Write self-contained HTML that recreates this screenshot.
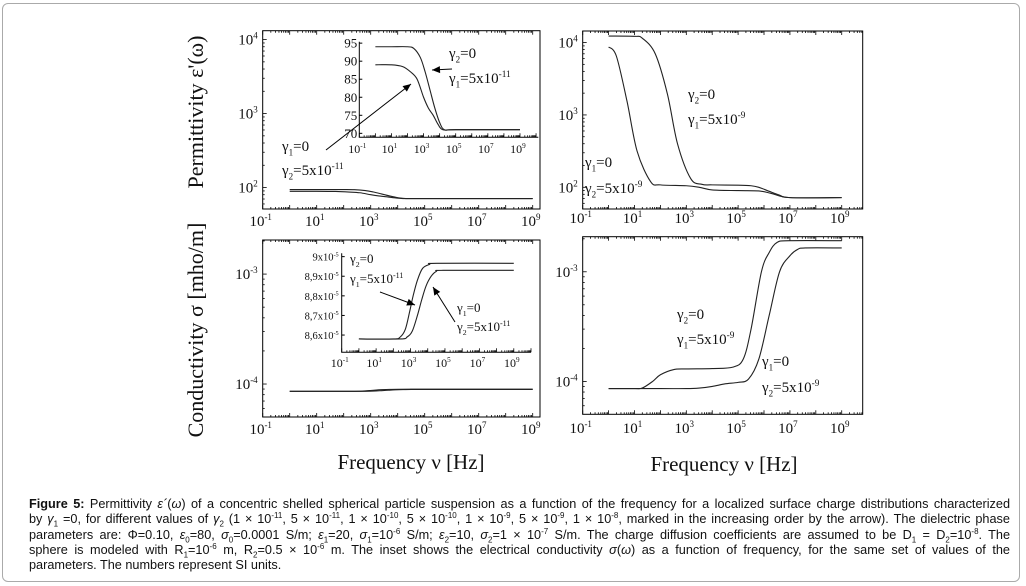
<!DOCTYPE html>
<html><head><meta charset="utf-8">
<style>
html,body{margin:0;padding:0;background:#fff;}
body{width:1026px;height:586px;position:relative;overflow:hidden;}
#frame{position:absolute;left:2px;top:3px;width:1018px;height:579px;border:1px solid #aaa;border-radius:6px;box-sizing:border-box;}
#cap{position:absolute;left:29px;top:497px;width:981px;font:12.7px/15.3px "Liberation Sans",sans-serif;color:#111;}
#cap div{text-align:justify;text-align-last:justify;white-space:nowrap;}
#cap div.last{text-align-last:left;}
#cap sub,#cap sup{font-size:8px;line-height:0;}
svg{position:absolute;left:0;top:0;}
svg text{font-family:"Liberation Serif","DejaVu Serif",serif;fill:#111;}
</style></head><body>
<div id="frame"></div>
<svg id="fig" width="1026" height="586"></svg>
<div id="cap"><div><b>Figure 5:</b> Permittivity <i>ε´</i>(<i>ω</i>) of a concentric shelled spherical particle suspension as a function of the frequency for a localized surface charge distributions characterized</div><div>by <i>γ</i><sub>1</sub> =0, for different values of <i>γ</i><sub>2</sub> (1 × 10<sup>-11</sup>, 5 × 10<sup>-11</sup>, 1 × 10<sup>-10</sup>, 5 × 10<sup>-10</sup>, 1 × 10<sup>-9</sup>, 5 × 10<sup>-9</sup>, 1 × 10<sup>-8</sup>, marked in the increasing order by the arrow). The dielectric phase</div><div>parameters are: Φ=0.10, <i>ε</i><sub>0</sub>=80, <i>σ</i><sub>0</sub>=0.0001 S/m; <i>ε</i><sub>1</sub>=20, <i>σ</i><sub>1</sub>=10<sup>-6</sup> S/m; <i>ε</i><sub>2</sub>=10, <i>σ</i><sub>2</sub>=1 × 10<sup>-7</sup> S/m. The charge diffusion coefficients are assumed to be D<sub>1</sub> = D<sub>2</sub>=10<sup>-8</sup>. The</div><div>sphere is modeled with R<sub>1</sub>=10<sup>-6</sup> m, R<sub>2</sub>=0.5 × 10<sup>-6</sup> m. The inset shows the electrical conductivity <i>σ</i>(<i>ω</i>) as a function of frequency, for the same set of values of the</div><div class="last">parameters. The numbers represent SI units.</div></div>
<script>
// ---- data (x = log10 frequency) ----
const permA_logf = [0,1,2,2.4,2.8,3.1,3.4,3.7,4,4.3,5,9];
const permA_val  = [94,94,94,93.5,91,87,82,77,73,71,71,71];
const permB_logf = [0,1,1.7,2.2,2.6,3,3.3,3.6,3.9,4.2,5,9];
const permB_val  = [89,89,88.5,87,85,80,77,75,72.5,71,71,71];
const condA_logf = [0,2,2.4,2.7,2.95,3.15,3.4,3.7,4.1,4.5,9];
const condA_val  = [8.58e-5,8.58e-5,8.59e-5,8.63e-5,8.72e-5,8.80e-5,8.88e-5,8.94e-5,8.96e-5,8.966e-5,8.966e-5];
const condB_logf = [0,2.4,2.8,3.1,3.4,3.65,3.9,4.2,4.5,4.9,9];
const condB_val  = [8.58e-5,8.58e-5,8.59e-5,8.62e-5,8.7e-5,8.78e-5,8.85e-5,8.9e-5,8.925e-5,8.93e-5,8.93e-5];
const trA_logf = [0,1,1.3,1.8,2.27,2.66,3.17,3.6,4,5,5.5,5.8,6.2,6.6,7,9];
const trA_val  = [12300,12200,11500,7000,1950,400,132,110,108,107,105,100,88,78,72,72];
const trB_logf = [0,0.3,0.71,1.1,1.62,2,3,3.5,4,5,5.8,6.3,7,9];
const trB_val  = [8700,6500,1550,316,120,108,105,100,92,90,89,82,72,72];
const brC_logf = [0,1,1.3,1.7,2,2.5,3,4,4.8,5.2,5.5,5.9,6.2,6.5,7,9];
const brC_val  = [0.86e-4,0.86e-4,0.87e-4,1.0e-4,1.15e-4,1.28e-4,1.3e-4,1.31e-4,1.35e-4,1.6e-4,3e-4,10e-4,15e-4,18.5e-4,19.2e-4,19.2e-4];
const brD_logf = [0,2,3,3.5,4,4.5,5,5.4,5.8,6.2,6.6,7,7.3,7.6,9];
const brD_val  = [0.86e-4,0.86e-4,0.86e-4,0.87e-4,0.9e-4,0.95e-4,0.98e-4,1.05e-4,1.6e-4,4e-4,10e-4,14e-4,16e-4,16.5e-4,16.5e-4];
const xTickExp = [-1,1,3,5,7,9];
const logYTicksTop = [2,3,4];
const logYTicksBot = [-4,-3];
const insetPermTicks = [70,75,80,85,90,95];
const insetCondTicks = [8.6e-5,8.7e-5,8.8e-5,8.9e-5,9e-5];
const insetCondLabels = ["8,6x10","8,7x10","8,8x10","8,9x10","9x10"];

const NS="http://www.w3.org/2000/svg";
const svg=document.getElementById('fig');
function el(tag,attrs,parent){const e=document.createElementNS(NS,tag);for(const k in attrs)e.setAttribute(k,attrs[k]);(parent||svg).appendChild(e);return e;}
function powText(x,y,base,exp,size,anchor,parent){
  const t=el('text',{x:x,y:y,'font-size':size,'text-anchor':anchor},parent);
  const a=document.createElementNS(NS,'tspan');a.textContent=base;t.appendChild(a);
  const b=document.createElementNS(NS,'tspan');b.setAttribute('dy',-size*0.4);b.setAttribute('font-size',size*0.6);b.textContent=exp;t.appendChild(b);
  return t;
}
function panel(name,L,R,T,B,x0,x1,y0,y1,ylog,inset){
  const g=el('g',{});
  
  
  const sx=v=>L+(v-x0)/(x1-x0)*(R-L);
  const sy=v=>{const w=ylog?Math.log10(v):v;return B-(w-y0)/(y1-y0)*(B-T);};
  if(inset){
    const r=el('path',{d:`M${L},${T} V${B} H${R}`,fill:'none',stroke:'#000','stroke-width':1},g);
    
    
  } else {
    const r=el('rect',{x:L,y:T,width:R-L,height:B-T,fill:'none',stroke:'#000','stroke-width':1},g);
    
    
  }
  return {g,sx,sy,L,R,T,B,x0,x1,y0,y1,inset};
}
function xTicks(p,minor){
  for(let d=Math.floor(p.x0);d<=Math.ceil(p.x1);d++){
    for(let m=1;m<10;m++){
      const v=d+Math.log10(m); if(v<p.x0-1e-9||v>p.x1) continue;
      if(!minor && m>1) continue;
      const x=p.sx(v),len=m===1?4:2;
      el('line',{x1:x,x2:x,y1:p.B,y2:p.B-len,stroke:'#000','stroke-width':0.8},p.g);
      if(!p.inset) el('line',{x1:x,x2:x,y1:p.T,y2:p.T+len,stroke:'#000','stroke-width':0.8},p.g);
    }
  }
}
function xLabels(p,y,size){
  xTickExp.forEach(e=>{const t=powText(p.sx(e)-2,y,'10',String(e),size,'middle',p.g);
    
    });
}
function logYTicks(p,majors,size){
  for(let d=Math.floor(p.y0);d<=Math.ceil(p.y1);d++){
    for(let m=1;m<10;m++){const v=d+Math.log10(m); if(v<p.y0||v>p.y1) continue;
      const y=p.B-(v-p.y0)/(p.y1-p.y0)*(p.B-p.T);
      el('line',{x1:p.L,x2:p.L+(m===1?4:2),y1:y,y2:y,stroke:'#000','stroke-width':0.8},p.g);}
  }
  majors.forEach(e=>{const y=p.B-(e-p.y0)/(p.y1-p.y0)*(p.B-p.T);
    const t=powText(p.L-5,y+5,'10',String(e),size,'end',p.g);
    
    });
}
function curve(p,xs,ys,name){
  const pts=xs.map((x,i)=>[p.sx(x),p.sy(ys[i])]);
  let d='M'+pts[0][0]+','+pts[0][1];
  for(let i=0;i<pts.length-1;i++){
    const p0=pts[Math.max(0,i-1)],p1=pts[i],p2=pts[i+1],p3=pts[Math.min(pts.length-1,i+2)];
    d+=' C'+(p1[0]+(p2[0]-p0[0])/6)+','+(p1[1]+(p2[1]-p0[1])/6)+' '+(p2[0]-(p3[0]-p1[0])/6)+','+(p2[1]-(p3[1]-p1[1])/6)+' '+p2[0]+','+p2[1];
  }
  const path=el('path',{d:d,fill:'none',stroke:'#222','stroke-width':1.1},p.g);
  
  
}
function gtext(x,y,sub,rest,size){
  const t=el('text',{x:x,y:y,'font-size':size});
  
  
  const a=document.createElementNS(NS,'tspan');a.textContent='γ';t.appendChild(a);
  const b=document.createElementNS(NS,'tspan');b.setAttribute('dy',size*0.3);b.setAttribute('font-size',size*0.6);b.textContent=sub;t.appendChild(b);
  const c=document.createElementNS(NS,'tspan');c.setAttribute('dy',-size*0.3);c.textContent=rest[0];t.appendChild(c);
  if(rest[1]){const d=document.createElementNS(NS,'tspan');d.setAttribute('dy',-size*0.4);d.setAttribute('font-size',size*0.62);d.textContent=rest[1];t.appendChild(d);}
}
function arrow(x1,y1,x2,y2,name){
  const l=el('line',{x1:x1,y1:y1,x2:x2,y2:y2,stroke:'#000','stroke-width':1});
  
  
  const a=Math.atan2(y2-y1,x2-x1),s=8,w=3.5;
  const bx=x2-s*Math.cos(a),by=y2-s*Math.sin(a);
  el('polygon',{points:`${x2},${y2} ${bx-w*Math.sin(a)},${by+w*Math.cos(a)} ${bx+w*Math.sin(a)},${by-w*Math.cos(a)}`,fill:'#000'});
}

// Top-left
const tl=panel('permittivity-left-panel',262.7,540,30.7,209,-1,9.27,1.71,4.12,true,false);
xTicks(tl,true); logYTicks(tl,logYTicksTop,15); xLabels(tl,226,15);
curve(tl,permA_logf,permA_val,'perm-curve-a'); curve(tl,permB_logf,permB_val,'perm-curve-b');
// inset TL
const ti=panel('permittivity-inset',359.3,538.3,41.7,137.3,-1,10.14,68.9,95.4,false,true);
xTicks(ti,true);
insetPermTicks.forEach(v=>{const y=ti.sy(v);el('line',{x1:ti.L,x2:ti.L+3,y1:y,y2:y,stroke:'#000'},ti.g);
  const t=el('text',{x:ti.L-2,y:y+4.5,'font-size':13,'text-anchor':'end'},ti.g);t.textContent=v;
  
  });
xTickExp.forEach(e=>{const t=powText(ti.sx(e)-2,153,'10',String(e),12,'middle',ti.g);
  
  });
curve(ti,permA_logf,permA_val,'inset-perm-curve-a'); curve(ti,permB_logf,permB_val,'inset-perm-curve-b');

// Bottom-left
const bl=panel('conductivity-left-panel',262.7,540,240,417,-1,9.27,-4.30,-2.69,true,false);
xTicks(bl,true); logYTicks(bl,logYTicksBot,15); xLabels(bl,434,15);
curve(bl,condA_logf,condA_val,'cond-curve-a'); curve(bl,condB_logf,condB_val,'cond-curve-b');
const bi=panel('conductivity-inset',341.7,531,253.3,352.3,-1,10.0,8.512e-5,9.017e-5,false,true);
xTicks(bi,true);
insetCondTicks.forEach((v,i)=>{const y=bi.sy(v);el('line',{x1:bi.L,x2:bi.L+3,y1:y,y2:y,stroke:'#000'},bi.g);
  const t=powText(bi.L-3,y+4,insetCondLabels[i],'-5',10.5,'end',bi.g);
  
  });
xTickExp.forEach(e=>{const t=powText(bi.sx(e)-2,367,'10',String(e),12,'middle',bi.g);
  
  });
curve(bi,condA_logf,condA_val,'inset-cond-curve-a'); curve(bi,condB_logf,condB_val,'inset-cond-curve-b');

// Top-right
const tr=panel('permittivity-right-panel',582.7,862.7,31,209,-1,9.81,1.70,4.16,true,false);
xTicks(tr,true); logYTicks(tr,logYTicksTop,15); xLabels(tr,223,15);
curve(tr,trA_logf,trA_val,'perm-right-curve-a'); curve(tr,trB_logf,trB_val,'perm-right-curve-b');
// Bottom-right
const br=panel('conductivity-right-panel',582.7,862.7,236.7,414.3,-1,9.81,-4.30,-2.68,true,false);
xTicks(br,true); logYTicks(br,logYTicksBot,15); xLabels(br,433,15);
curve(br,brC_logf,brC_val,'cond-right-curve-c'); curve(br,brD_logf,brD_val,'cond-right-curve-d');

// annotations
gtext(282,151,'1',['=0'],15); gtext(282,175,'2',['=5x10','-11'],15);
arrow(326,150,411,84,'arrow-perm-main');
gtext(449,58,'2',['=0'],15); gtext(449,83,'1',['=5x10','-11'],15);
arrow(452,69,432,70,'arrow-perm-inset');
gtext(350,263,'2',['=0'],13); gtext(350,283,'1',['=5x10','-11'],13);
arrow(380,292,415,305,'arrow-cond-a');
gtext(457,312,'1',['=0'],13); gtext(457,331,'2',['=5x10','-11'],13);
arrow(455,322,433,287,'arrow-cond-b');
gtext(688,99,'2',['=0'],15); gtext(688,124,'1',['=5x10','-9'],15);
gtext(585,167,'1',['=0'],15); gtext(585,193,'2',['=5x10','-9'],15);
gtext(677,319,'2',['=0'],15); gtext(677,344,'1',['=5x10','-9'],15);
gtext(762,366,'1',['=0'],15); gtext(762,392,'2',['=5x10','-9'],15);

// axis titles
function title(x,y,txt,size,rot,name){
  const t=el('text',{x:x,y:y,'font-size':size,'text-anchor':'middle'});
  if(rot) t.setAttribute('transform',`rotate(-90 ${x} ${y})`);
  t.textContent=txt;
  
  
}
title(203,112,"Permittivity ε'(ω)",22,true,'y-axis-title-permittivity');
title(203,330,"Conductivity σ [mho/m]",22,true,'y-axis-title-conductivity');
title(411,469,"Frequency  ν [Hz]",21,false,'x-axis-title-left');
title(724,471,"Frequency  ν [Hz]",21,false,'x-axis-title-right');
</script>
</body></html>
